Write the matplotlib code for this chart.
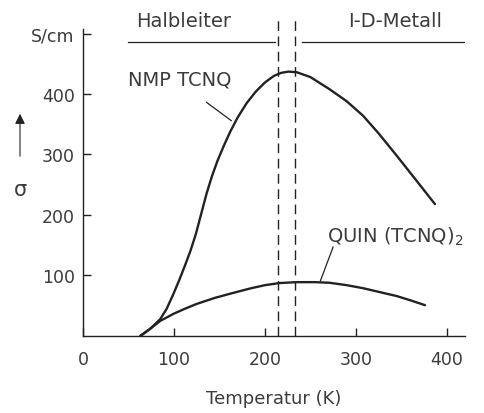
import matplotlib
matplotlib.use("Agg")
import matplotlib.pyplot as plt

plt.rcParams['font.family'] = ['DejaVu Sans']

# Data
nmp_T = [63, 74, 85, 92, 99, 106, 112, 118, 124, 130, 136, 142, 148, 155, 162,
         170, 180, 190, 200, 210, 218, 226, 235, 250, 271, 290, 308, 325, 345,
         365, 387]
nmp_s = [0, 12, 28, 45, 68, 93, 116, 140, 168, 202, 236, 265, 290, 315, 338,
         361, 385, 404, 419, 430, 435, 437, 436, 428, 408, 388, 364, 335, 298,
         260, 218]

quin_T = [63, 74, 85, 100, 112, 125, 145, 162, 185, 200, 216, 235, 255, 271,
          290, 308, 325, 345, 362, 376]
quin_s = [0, 12, 25, 37, 45, 53, 63, 70, 79, 84, 87.5, 89, 89, 88,
          84, 79, 73, 66, 58, 51]

transition_T = [214, 233]
xticks = [0, 100, 200, 300, 400]
yticks = [100, 200, 300, 400, 500]
yticklabels = ['100', '200', '300', '400', 'S/cm']

ink = '#222222'
txt = '#3c3c3c'

fig = plt.figure(figsize=(4.85, 4.14), dpi=100)
ax = fig.add_axes([0.1711, 0.186, 0.7876, 0.7745])
ax.set_xlim(0, 420)
ax.set_ylim(0, 530)

ax.plot(nmp_T, nmp_s, color=ink, lw=1.7, solid_capstyle='round', solid_joinstyle='round')
ax.plot(quin_T, quin_s, color=ink, lw=1.7, solid_capstyle='round', solid_joinstyle='round')

for t in transition_T:
    ax.plot([t, t], [0, 527], color=ink, lw=1.0, dashes=(7, 4))

# region lines
ax.plot([50, 211], [486, 486], color=ink, lw=0.9)
ax.plot([241, 420], [486, 486], color=ink, lw=0.9)
ax.text(111, 521, 'Halbleiter', ha='center', va='center', fontsize=14, color=txt,
        clip_on=False)
ax.text(343, 521, 'I-D-Metall', ha='center', va='center', fontsize=14, color=txt,
        clip_on=False)

# curve labels
ax.text(49.5, 425, 'NMP TCNQ', ha='left', va='center', fontsize=14, color=txt)
ax.plot([136, 163], [386, 356], color=ink, lw=0.9)
ax.text(268, 165, 'QUIN (TCNQ)$_2$', ha='left', va='center', fontsize=14, color=txt)
ax.plot([275, 261], [147, 91], color=ink, lw=0.9)

for s in ['top', 'right']:
    ax.spines[s].set_visible(False)
ax.spines['left'].set_bounds(0, 507)
ax.spines['bottom'].set_bounds(0, 420)
for s in ['left', 'bottom']:
    ax.spines[s].set_color(ink)
    ax.spines[s].set_linewidth(1.0)

ax.set_xticks(xticks)
ax.set_yticks(yticks)
ax.set_yticklabels(yticklabels)
ax.tick_params(axis='both', direction='in', length=6, width=1.0, color=ink,
               labelsize=12.5, labelcolor=txt)
ax.tick_params(axis='x', pad=10)
ax.tick_params(axis='y', pad=6)

ax.set_xlabel('Temperatur (K)', fontsize=13, color=txt, labelpad=15)

# sigma arrow on the left
fig.patches.append(matplotlib.patches.FancyArrowPatch(
    (20 / 485, 1 - 160 / 414), (20 / 485, 1 - 112 / 414), transform=fig.transFigure,
    arrowstyle='-|>,head_length=6,head_width=3', color=ink, lw=0.8))
fig.text(20 / 485, 1 - 190 / 414, 'σ', ha='center', va='center', fontsize=15, color=txt)

fig.savefig('out.png', dpi=100)
